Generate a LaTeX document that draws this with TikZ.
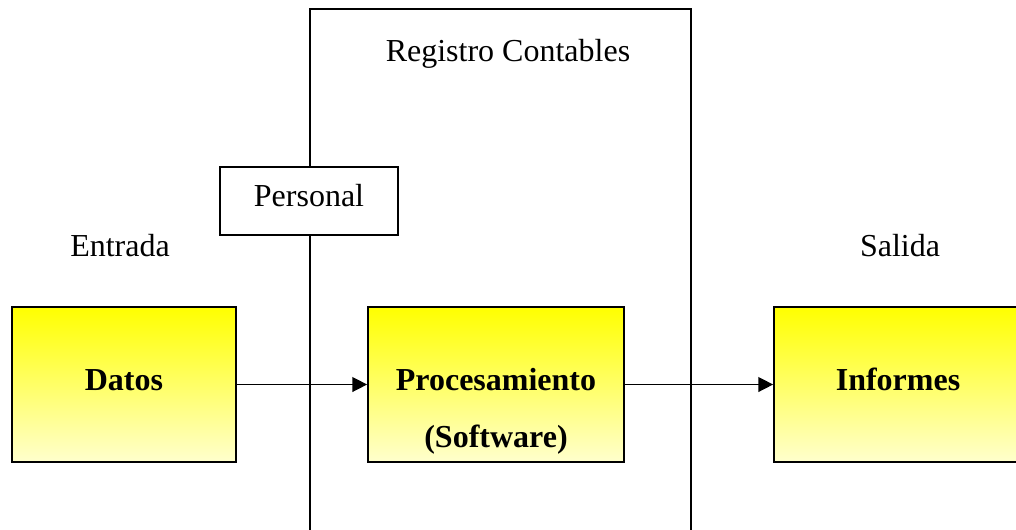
\documentclass[tikz,border=0pt]{standalone}
\usepackage{fontspec}
\setmainfont{Liberation Serif}
\usetikzlibrary{arrows.meta}
\definecolor{lightyel}{RGB}{255,255,205}
\tikzset{
  ybox/.style={draw=black, line width=1.3pt, top color=yellow, bottom color=lightyel, minimum height=116.25pt, inner sep=0pt},
  wbox/.style={draw=black, line width=1.3pt, fill=white, inner sep=0pt},
  txt/.style={font=\fontsize{24}{28}\selectfont, inner sep=0pt, anchor=base},
  btxt/.style={font=\fontsize{24}{28}\selectfont\bfseries, inner sep=0pt, anchor=base},
  conn/.style={line width=1.1pt, -{Triangle[length=11pt,width=11pt]}},
  frame/.style={line width=1.3pt}
}
\begin{document}
\begin{tikzpicture}[x=0.75pt,y=-0.75pt]
\useasboundingbox (0,0) rectangle (1016,529);
\clip (0,0) rectangle (1016,529);
% big frame
\coordinate (fl) at (310,540);
\coordinate (fr) at (691,540);
\draw[frame] (fl) -- (310,9) -- (691,9) -- (fr);
\node[txt] (reg) at (508,61) {Registro Contables};
% personal
\node[wbox, minimum width=133.5pt, minimum height=51pt] (pers) at (309,201) {};
\node[txt] (perst) at (309,206) {Personal};
\node[txt] (ent) at (120,256) {Entrada};
\node[txt] (sal) at (900,256) {Salida};
% boxes
\node[ybox, minimum width=168pt] (datos) at (124,384.5) {};
\node[ybox, minimum width=192pt] (proc) at (496,384.5) {};
\node[ybox, minimum width=186pt] (inf) at (898,384.5) {};
\node[btxt] (datost) at (124,390) {Datos};
\node[btxt] (proct) at (496,390) {Procesamiento};
\node[btxt] (softt) at (496,447) {(Software)};
\node[btxt] (inft) at (898,390) {Informes};
% connectors
\draw[conn] (datos.east) -- (proc.west);
\draw[conn] (proc.east) -- (inf.west);
\end{tikzpicture}
\end{document}
